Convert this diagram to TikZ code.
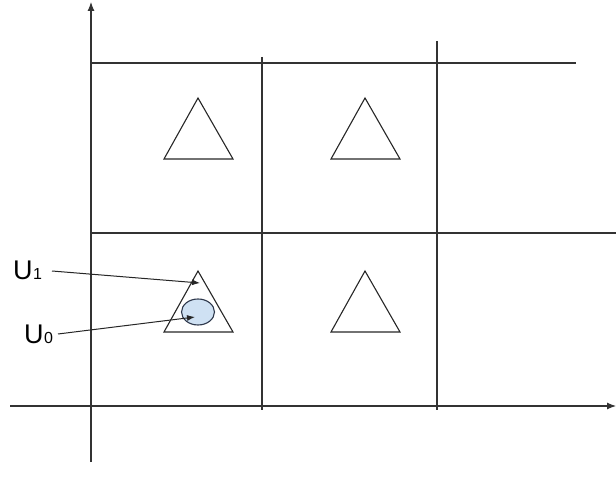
\documentclass[tikz,border=0pt]{standalone}
\usepackage{fontspec}
\setmainfont{Liberation Sans}
\usetikzlibrary{arrows.meta,shapes.geometric}
\definecolor{ellfill}{RGB}{207,225,243}
\definecolor{elldraw}{RGB}{45,55,75}
\begin{document}
\begin{tikzpicture}[x=1pt,y=-1pt,
  gridline/.style={draw=black!80,line width=1.1pt},
  axisline/.style={draw=black!80,line width=1.1pt,-{Latex[length=9pt,width=7pt]}},
  tri/.style={draw=black!85,line width=1.1pt},
  pointer/.style={draw=black!85,line width=1pt,-{Latex[length=8pt,width=6pt]}},
  lab/.style={font=\fontsize{27}{29}\selectfont,inner sep=0pt,anchor=base west},
  sub/.style={font=\fontsize{16}{18}\selectfont,inner sep=0pt,anchor=base west}]
\useasboundingbox (0,0) rectangle (616,486);
% axes
\coordinate (ybot) at (91,462);
\coordinate (ytop) at (91,2);
\coordinate (xleft) at (10,406);
\coordinate (xright) at (616,406);
\draw[axisline] (ybot) -- (ytop);
\draw[axisline] (xleft) -- (xright);
% grid
\coordinate (h1a) at (91,63); \coordinate (h1b) at (576,63);
\coordinate (h2a) at (91,233); \coordinate (h2b) at (616,233);
\coordinate (v1a) at (262,57); \coordinate (v1b) at (262,410);
\coordinate (v2a) at (437,41); \coordinate (v2b) at (437,410);
\draw[gridline] (h1a) -- (h1b);
\draw[gridline] (h2a) -- (h2b);
\draw[gridline] (v1a) -- (v1b);
\draw[gridline] (v2a) -- (v2b);
% triangles
\foreach \cx/\cy/\n in {198/98/a, 365/98/b, 198/271/c, 365/271/d}{
  \draw[tri] (\cx,\cy) -- (\cx+35,\cy+61) -- (\cx-34,\cy+61) -- cycle;
}
% ellipse U0
\node[draw=elldraw,line width=1.1pt,fill=ellfill,ellipse,
  minimum width=33pt,minimum height=26pt,inner sep=0pt] (ell) at (198,312) {};
% labels
\node[lab] (U1) at (13,280) {U};
\node[sub] (U1s) at (U1.base east) {1};
\node[lab] (U0) at (24,344) {U};
\node[sub] (U0s) at (U0.base east) {0};
\coordinate (U1start) at (52,271);
\coordinate (U1end) at (200,283);
\coordinate (U0start) at (58,334);
\coordinate (U0end) at (195,317);
\draw[pointer] (U1start) -- (U1end);
\draw[pointer] (U0start) -- (U0end);
\end{tikzpicture}
\end{document}
